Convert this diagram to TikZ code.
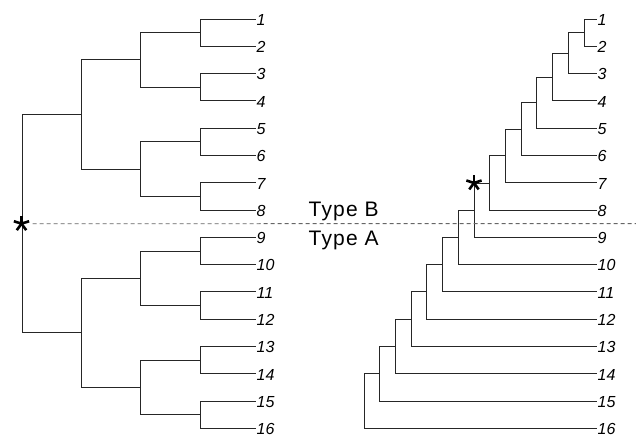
\documentclass[tikz,border=0pt]{standalone}
\usepackage{fontspec}
\setmainfont{Liberation Sans}
\begin{document}
\begin{tikzpicture}[x=1pt,y=-1pt,
  branch/.style={line width=0.9pt, draw=black!85},
  leaflabel/.style={anchor=base west, inner sep=0pt, font=\itshape\fontsize{16}{16}\selectfont},
  typelabel/.style={anchor=base west, inner sep=0pt, font=\fontsize{21}{21}\selectfont\addfontfeature{LetterSpace=5.5}},
  separator/.style={dashed, dash pattern=on 4pt off 3pt, line width=0.8pt, draw=black!60},
  starspoke/.style={line width=2.6pt, draw=black}]
\useasboundingbox (0,0) rectangle (636,436);
\def\dd{27.29}
% leaves and labels
\foreach \i in {1,...,16} {
  \pgfmathsetmacro\yy{19+(\i-1)*\dd}
  \coordinate (l\i) at (256,\yy);
  \coordinate (r\i) at (597,\yy);
  \node[leaflabel] (ll\i) at (256.5,\yy+6.3) {\i};
  \node[leaflabel] (rl\i) at (597.5,\yy+6.3) {\i};
}
% left tree internal nodes
\foreach \j in {1,...,8} {\pgfmathsetmacro\yy{19+(2*\j-1.5)*\dd}\coordinate (a\j) at (200,\yy);}
\foreach \j in {1,...,4} {\pgfmathsetmacro\yy{19+(4*\j-2.5)*\dd}\coordinate (b\j) at (140.7,\yy);}
\foreach \j in {1,2} {\pgfmathsetmacro\yy{19+(8*\j-4.5)*\dd}\coordinate (c\j) at (81.7,\yy);}
\coordinate (root) at (22.7,{19+7.5*\dd});
\foreach \j in {1,...,8} {
  \pgfmathtruncatemacro\p{2*\j-1}\pgfmathtruncatemacro\q{2*\j}
  \draw[branch] (a\j) |- (l\p); \draw[branch] (a\j) |- (l\q);
}
\foreach \j in {1,...,4} {
  \pgfmathtruncatemacro\p{2*\j-1}\pgfmathtruncatemacro\q{2*\j}
  \draw[branch] (b\j) |- (a\p); \draw[branch] (b\j) |- (a\q);
}
\foreach \j in {1,2} {
  \pgfmathtruncatemacro\p{2*\j-1}\pgfmathtruncatemacro\q{2*\j}
  \draw[branch] (c\j) |- (b\p); \draw[branch] (c\j) |- (b\q);
}
\draw[branch] (root) |- (c1); \draw[branch] (root) |- (c2);
% right tree (caterpillar): node k joins leaves 1..k
\def\ww{15.71}
\foreach \k in {2,...,16} {
  \pgfmathsetmacro\yy{19+(\k-2+2^(-(\k-1)))*\dd}
  \coordinate (n\k) at ({364+(16-\k)*\ww},\yy);
}
\draw[branch] (n2) |- (r1); \draw[branch] (n2) |- (r2);
\foreach \k in {3,...,16} {
  \pgfmathtruncatemacro\km{\k-1}
  \draw[branch] (n\k) |- (n\km); \draw[branch] (n\k) |- (r\k);
}
% separator
\coordinate (sepend) at (636,223.6);
\draw[separator] ([xshift=10pt]root) -- (sepend);
\node[typelabel] (tb) at (308.5,216) {Type B};
\node[typelabel] (ta) at (308.5,245) {Type A};
% asterisks
\coordinate (star1) at (21.5,{19+7.5*\dd});
\path (n9) |- (n8) coordinate[pos=0.5] (star2);
\foreach \c in {star1,star2} {
  \foreach \a in {270,342,54,126,198} \draw[starspoke] (\c) -- ++(\a:8);
}
\end{tikzpicture}
\end{document}
